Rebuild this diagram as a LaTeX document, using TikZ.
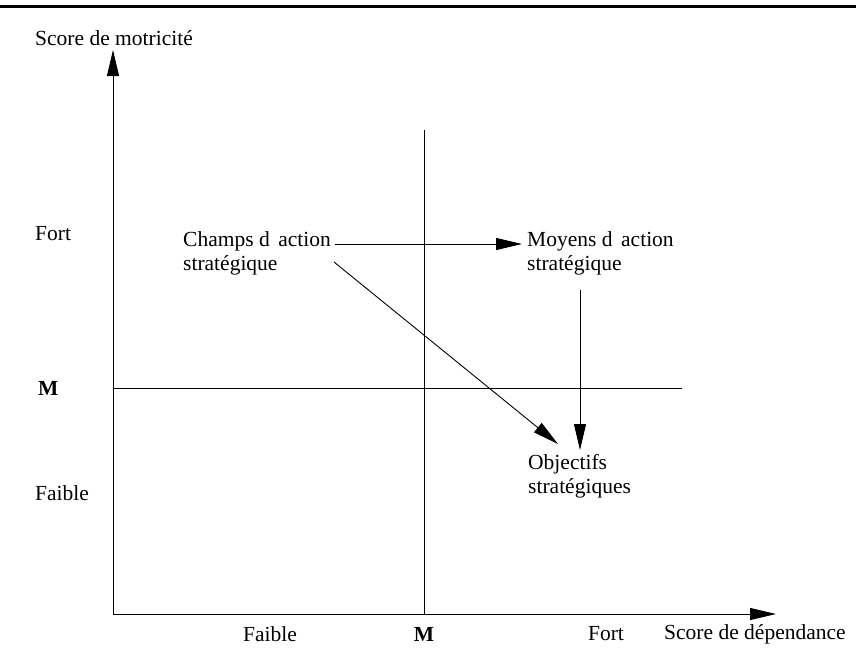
\documentclass[tikz,border=0pt]{standalone}
\usepackage{fontspec}
\setmainfont{Liberation Serif}
\usetikzlibrary{arrows.meta}
\begin{document}
\begin{tikzpicture}[x=1pt,y=-1pt,
  lbl/.style={font=\fontsize{21.5}{24}\selectfont, inner sep=0pt},
  blk/.style={lbl, align=left, anchor=north west},
  ln/.style={line width=0.9pt},
  arr/.style={ln, -{Triangle[length=26pt,width=12pt]}}]
\useasboundingbox (0,0) rectangle (856,657);
\draw[line width=3pt] (0,6) -- (856,6);
% axes
\coordinate (O) at (113,614);
\coordinate (ytip) at (113,50);
\coordinate (xtip) at (776,614);
\draw[arr] (O) -- (ytip);
\draw[arr] (O) -- (xtip);
% median lines
\coordinate (vt) at (424,130);
\coordinate (vb) at (424,614);
\coordinate (hl) at (113,388);
\coordinate (hr) at (682,388);
\draw[ln] (vt) -- (vb);
\draw[ln] (hl) -- (hr);
% axis labels
\node[lbl, anchor=west] (ylab) at (35,38) {Score de motricité};
\node[lbl, anchor=west] (yfort) at (35,234) {Fort};
\node[lbl, anchor=west, font=\fontsize{21.5}{24}\selectfont\bfseries] (ym) at (38,388) {M};
\node[lbl, anchor=west] (yfaible) at (35,493) {Faible};
\node[lbl] (xfaible) at (270,634) {Faible};
\node[lbl, font=\fontsize{21.5}{24}\selectfont\bfseries] (xm) at (424,634) {M};
\node[lbl] (xfort) at (606,634) {Fort};
\node[lbl, anchor=west] (xlab) at (664,634) {Score de dépendance};
% blocks
\node[blk] (champs) at (183,231) {Champs d\hspace{0.15em} action\\stratégique};
\node[blk] (moyens) at (527,231) {Moyens d\hspace{0.15em} action\\stratégique};
\node[blk] (obj) at (528,454) {Objectifs\\stratégiques};
\coordinate (c1) at (335,244);
\coordinate (c2) at (522,244);
\coordinate (d1) at (334,262);
\coordinate (d2) at (558,444);
\coordinate (m1) at (580,290);
\coordinate (m2) at (580,450);
\draw[arr] (c1) -- (c2);
\draw[arr] (d1) -- (d2);
\draw[arr] (m1) -- (m2);
\end{tikzpicture}
\end{document}
